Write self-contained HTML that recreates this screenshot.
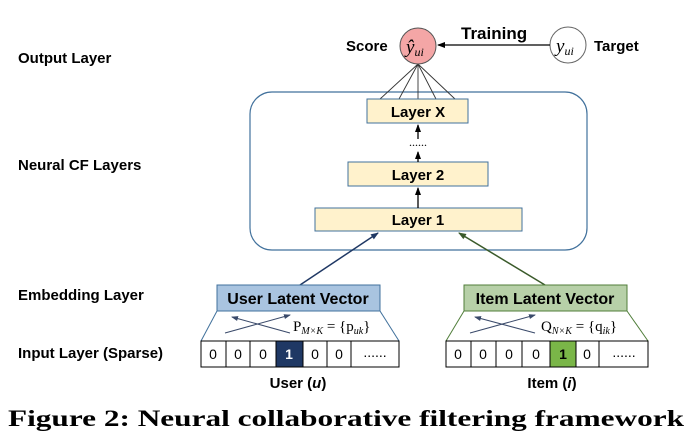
<!DOCTYPE html>
<html><head><meta charset="utf-8"><style>
body{margin:0;background:#fff;width:692px;height:442px;overflow:hidden}
.s{font-family:"Liberation Sans",sans-serif;font-weight:bold}
.m{font-family:"Liberation Serif",serif;font-weight:normal}
</style></head><body>
<svg width="692" height="442" viewBox="0 0 692 442" xmlns="http://www.w3.org/2000/svg">
<defs>
<marker id="a" markerWidth="8" markerHeight="8" refX="7" refY="4" orient="auto" markerUnits="userSpaceOnUse"><path d="M0,1 L8,4 L0,7z" fill="#000"/></marker>
<marker id="ab" markerWidth="8" markerHeight="8" refX="7" refY="4" orient="auto" markerUnits="userSpaceOnUse"><path d="M0,1 L8,4 L0,7z" fill="#1f3864"/></marker>
<marker id="ag" markerWidth="8" markerHeight="8" refX="7" refY="4" orient="auto" markerUnits="userSpaceOnUse"><path d="M0,1 L8,4 L0,7z" fill="#3a5a2a"/></marker>
<marker id="as" markerWidth="7" markerHeight="7" refX="6" refY="3.5" orient="auto" markerUnits="userSpaceOnUse"><path d="M0,1 L7,3.5 L0,6z" fill="#3a4a6a"/></marker>
</defs>
<g class="s" font-size="15" fill="#000">
<text x="18" y="63">Output Layer</text>
<text x="18" y="170">Neural CF Layers</text>
<text x="18" y="300">Embedding Layer</text>
<text x="18" y="358">Input Layer (Sparse)</text>
</g>
<rect x="250" y="92" width="337" height="158" rx="22" fill="none" stroke="#41719c" stroke-width="1.2"/>
<g stroke="#333" stroke-width="0.9">
<line x1="418" y1="64" x2="380" y2="99"/><line x1="418" y1="64" x2="399" y2="99"/><line x1="418" y1="64" x2="418" y2="99"/><line x1="418" y1="64" x2="436" y2="99"/><line x1="418" y1="64" x2="455" y2="99"/>
</g>
<circle cx="418" cy="46" r="18" fill="#f4a6a6" stroke="#555"/>
<text class="m" x="406" y="53" font-style="italic" font-size="19">ŷ<tspan font-size="12" dy="3">ui</tspan></text>
<circle cx="568" cy="45" r="18" fill="#fff" stroke="#666"/>
<text class="m" x="556" y="52" font-style="italic" font-size="19">y<tspan font-size="12" dy="3">ui</tspan></text>
<line x1="550" y1="45" x2="438" y2="45" stroke="#000" stroke-width="1.3" marker-end="url(#a)"/>
<text class="s" x="346" y="51" font-size="15">Score</text>
<text class="s" x="461" y="39" font-size="17">Training</text>
<text class="s" x="594" y="51" font-size="15">Target</text>
<g fill="#fff2cc" stroke="#41719c" stroke-width="1">
<rect x="367" y="99" width="101" height="24"/>
<rect x="348" y="162" width="140" height="24"/>
<rect x="315" y="208" width="207" height="23"/>
</g>
<g class="s" font-size="15" text-anchor="middle">
<text x="418" y="117">Layer X</text><text x="418" y="180">Layer 2</text><text x="418" y="225">Layer 1</text>
</g>
<g stroke="#000" stroke-width="1.3">
<line x1="418" y1="139" x2="418" y2="125" marker-end="url(#a)"/>
<line x1="418" y1="162" x2="418" y2="152" marker-end="url(#a)"/>
<line x1="418" y1="208" x2="418" y2="188" marker-end="url(#a)"/>
</g>
<text class="m" x="418" y="146" font-size="12" text-anchor="middle">......</text>
<line x1="300" y1="285" x2="378" y2="233" stroke="#1f3864" stroke-width="1.5" marker-end="url(#ab)"/>
<line x1="545" y1="285" x2="459" y2="233" stroke="#3a5a2a" stroke-width="1.5" marker-end="url(#ag)"/>
<rect x="217" y="285" width="163" height="26" fill="#a9c4e0" stroke="#41719c"/>
<rect x="464" y="285" width="163" height="26" fill="#b7d0a8" stroke="#507e3a"/>
<text class="s" x="298" y="304" font-size="16" text-anchor="middle">User Latent Vector</text>
<text class="s" x="545" y="304" font-size="16" text-anchor="middle">Item Latent Vector</text>
<g stroke="#41719c" stroke-width="1"><line x1="217" y1="311" x2="201" y2="341"/><line x1="380" y1="311" x2="399" y2="341"/></g>
<g stroke="#507e3a" stroke-width="1"><line x1="464" y1="311" x2="446" y2="341"/><line x1="627" y1="311" x2="648" y2="341"/></g>
<g stroke="#3a4a6a" stroke-width="1">
<line x1="225" y1="333" x2="290" y2="315" marker-end="url(#as)"/><line x1="290" y1="333" x2="232" y2="317" marker-end="url(#as)"/>
<line x1="470" y1="333" x2="535" y2="315" marker-end="url(#as)"/><line x1="535" y1="333" x2="475" y2="317" marker-end="url(#as)"/>
</g>
<text class="m" x="293" y="331" font-size="15">P<tspan font-size="10" font-style="italic" dy="3">M×K</tspan><tspan dy="-3"> = {p</tspan><tspan font-size="10" font-style="italic" dy="3">uk</tspan><tspan dy="-3">}</tspan></text>
<text class="m" x="541" y="331" font-size="15">Q<tspan font-size="10" font-style="italic" dy="3">N×K</tspan><tspan dy="-3"> = {q</tspan><tspan font-size="10" font-style="italic" dy="3">ik</tspan><tspan dy="-3">}</tspan></text>
<g stroke="#000" stroke-width="1" fill="#fff">
<rect x="201" y="341" width="198" height="26"/>
<rect x="446" y="341" width="202" height="26"/>
<rect x="276" y="341" width="27" height="26" fill="#1f3864"/>
<rect x="550" y="341" width="26" height="26" fill="#7ab648"/>
<line x1="226" y1="341" x2="226" y2="367"/><line x1="250" y1="341" x2="250" y2="367"/><line x1="327" y1="341" x2="327" y2="367"/><line x1="351" y1="341" x2="351" y2="367"/>
<line x1="471" y1="341" x2="471" y2="367"/><line x1="496" y1="341" x2="496" y2="367"/><line x1="522" y1="341" x2="522" y2="367"/><line x1="599" y1="341" x2="599" y2="367"/>
</g>
<g class="s" font-size="14" text-anchor="middle" style="font-weight:normal">
<text x="213" y="359">0</text><text x="238" y="359">0</text><text x="263" y="359">0</text><text x="315" y="359">0</text><text x="339" y="359">0</text><text x="375" y="357">......</text>
<text x="458" y="359">0</text><text x="483" y="359">0</text><text x="509" y="359">0</text><text x="536" y="359">0</text><text x="587" y="359">0</text><text x="624" y="357">......</text>
</g>
<text class="s" x="289" y="359" font-size="14" text-anchor="middle" fill="#fff">1</text>
<text class="s" x="563" y="359" font-size="14" text-anchor="middle">1</text>
<text class="s" x="298" y="388" font-size="15" text-anchor="middle">User (<tspan font-style="italic">u</tspan>)</text>
<text class="s" x="552" y="388" font-size="15" text-anchor="middle">Item (<tspan font-style="italic">i</tspan>)</text>
<text x="8" y="426" style="font-family:'Liberation Serif',serif;font-weight:bold" font-size="23" textLength="676" lengthAdjust="spacingAndGlyphs">Figure 2: Neural collaborative filtering framework</text>
</svg>
</body></html>
